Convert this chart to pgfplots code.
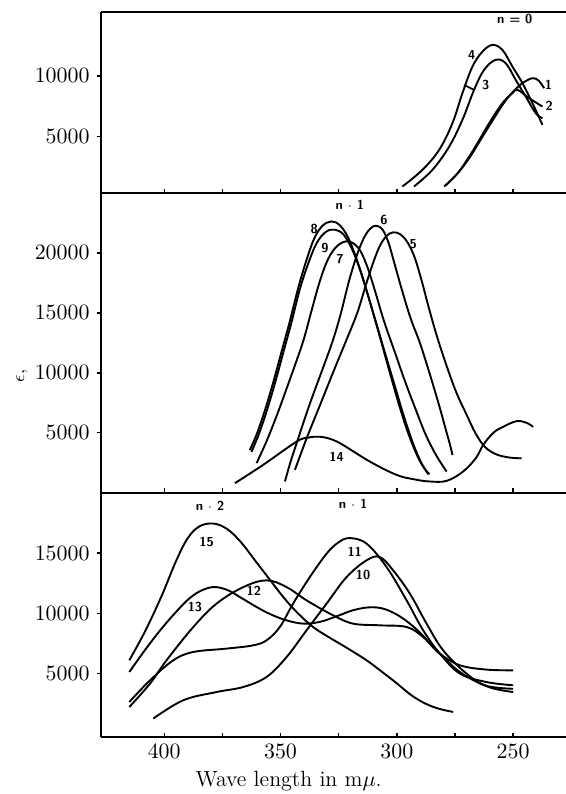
\documentclass[border=0pt]{standalone}
\usepackage{pgfplots}
\pgfplotsset{compat=1.18}
\usepgfplotslibrary{groupplots}

\tikzset{lbl/.style={font=\fontsize{6.5}{7}\sffamily\bfseries, inner sep=0pt}}

\begin{document}
\begin{tikzpicture}
\begin{groupplot}[
  group style={group size=1 by 3, vertical sep=0pt, group name=G,
    xticklabels at=edge bottom},
  width=232.5pt, scale only axis,
  x dir=reverse, xmin=227.4, xmax=427.2,
  xtick={250,300,350,400}, minor xtick={275,325,375},
  axis x line*=box, axis y line*=left,
  xtick pos=bottom, ytick pos=left,
  xtick align=inside, ytick align=outside,
  major tick length=2.2pt, minor tick length=2.2pt,
  every tick/.style={black, line width=0.7pt},
  axis line style={line width=1pt},
  scaled y ticks=false,
  yticklabel style={/pgf/number format/1000 sep={}},
  tick label style={font=\fontsize{10.5}{12}\selectfont},
  clip=false,
  every axis plot post/.append style={black, solid, line width=0.95pt, mark=none, smooth, tension=0.6},
]
% ---- top panel, n = 0
\nextgroupplot[height=90.5pt, ymin=300, ymax=15300, ytick={5000,10000}]
\coordinate (TL) at (rel axis cs:0,1);
\addplot coordinates {(297.6,830) (289,2210) (281.8,3870) (276.1,6080) (271.8,8570) (267.5,10770) (263.2,12010) (258.9,12570) (254.6,12150) (250.3,10770) (246,9400) (241.7,7740) (237.4,5940)};
\addplot coordinates {(292.6,830) (284.7,2210) (277.5,4140) (271.8,6360) (266.8,8840) (262.5,10500) (257.5,11330) (253.2,11050) (248.9,9670) (244.6,8290) (240.3,6910) (237.4,6500)};
\addplot coordinates {(279.7,830) (274,1900) (268.9,3310) (264.5,4700) (260.3,6080) (254.6,7740) (250.3,8570) (248.1,8840) (243.1,8150) (237.4,7460)};
\addplot coordinates {(279,900) (273.5,2000) (268.3,3350) (264,4700) (259.5,6100) (254,7750) (250,8700) (246,9400) (241.7,9810) (239,9600) (236.7,8980)};
\draw[line width=0.8pt] (axis cs:271.1,9255) -- (axis cs:266.8,8840);
\node[lbl] at (axis cs:249.3,14700) {n = 0};
\node[lbl] at (axis cs:267.8,11740) {4};
\node[lbl] at (axis cs:261.8,9254) {3};
\node[lbl] at (axis cs:234.8,9254) {1};
\node[lbl] at (axis cs:234.5,7514) {2};

% ---- middle panel, n = 1
\nextgroupplot[height=150pt, ymin=0, ymax=25000, ytick={5000,10000,15000,20000},
  ylabel={$\epsilon$,},
  ylabel style={at={(axis description cs:-0.17,0.39)}, anchor=center,
    font=\fontsize{9}{10}\selectfont}]
% 8
\addplot coordinates {(363.2,3560) (360,5000) (356.5,7000) (353,9300) (349.5,11800) (346,14300) (342.5,17000) (339,19300) (335.5,21200) (332,22250) (328.1,22620) (324.5,22300) (321,21300) (317.5,19600) (314,17500) (310.5,15200) (307,12800) (303,10000) (299,7300) (295,4900) (291,3000) (288,2000) (286,1550)};
% 9
\addplot coordinates {(362.5,3400) (359.3,4900) (355.8,6900) (352.3,9200) (348.8,11700) (345.3,14200) (341.8,16900) (338.3,19000) (334.5,20800) (330.5,21750) (326.6,21930) (322.8,21500) (319,20200) (315.5,18400) (312,16200) (308.5,13900) (305,11600) (301,9000) (297,6400) (293,4100) (289.5,2500) (286.5,1550)};
% 7
\addplot coordinates {(360.3,2470) (356,4300) (351.5,6500) (347.4,8680) (343.5,10800) (340,12800) (336.5,15300) (333,17700) (329.5,19500) (325.5,20600) (320.9,20960) (316.5,20400) (313,19000) (309.5,16900) (305.5,14300) (301,11800) (296.5,9300) (292,7000) (287.5,4800) (283,3100) (278.6,1770)};
% 6
\addplot coordinates {(348.1,944) (345.5,2700) (342.4,4530) (338.5,6800) (335,8700) (331,10800) (327.3,12820) (324,15000) (320.5,17700) (317,19900) (314,21300) (311.3,22050) (308.7,22260) (306,21900) (303.5,20800) (301,19100) (297.5,16700) (294,14500) (290.1,12500) (286,10000) (282,7400) (279,5300) (277,3900) (276.1,3150)};
% 5
\addplot coordinates {(343.8,1910) (338.8,4530) (334.5,6600) (330.2,8680) (326,10700) (321.5,12820) (317,15000) (313.5,17200) (310.5,19000) (307.5,20500) (304.5,21400) (301.6,21710) (298.5,21550) (295.5,20900) (292.5,19700) (289.5,17800) (286.5,15600) (283,13200) (279,10800) (274.5,8400) (270,6500) (266,4900) (262,3800) (257.2,3200) (251.4,2930) (246.4,2875)};
% 14
\addplot coordinates {(369.6,800) (357.5,2320) (343.1,4260) (338,4600) (333.1,4670) (328,4450) (323.1,3980) (311.6,2600) (300.1,1490) (292,1100) (285.8,940) (278.6,990) (271.5,1770) (266,2900) (262.9,3980) (258.5,5000) (254.3,5500) (248.6,5965) (244.5,5850) (241.4,5500)};
\node[lbl] at (axis cs:320.2,24000) {n $\cdot$ 1};
\node[lbl] at (axis cs:335.5,22000) {8};
\node[lbl] at (axis cs:330.9,20400) {9};
\node[lbl] at (axis cs:324.5,19450) {7};
\node[lbl] at (axis cs:305.5,22760) {6};
\node[lbl] at (axis cs:293,20690) {5};
\node[lbl] at (axis cs:325.9,3015) {14};

% ---- bottom panel, n = 2 and n = 1
\nextgroupplot[height=122.2pt, ymin=-250, ymax=20000, ytick={5000,10000,15000},
  xlabel={Wave length in m$\mu$.},
  xlabel style={at={(axis description cs:0.404,0)}, anchor=center, yshift=-22pt,
    font=\fontsize{11}{13}\selectfont}]
\coordinate (BR) at (rel axis cs:1,0);
% 15
\addplot coordinates {(415,6110) (408,8600) (401,11500) (395,14300) (390,16200) (385,17200) (379,17450) (373,17000) (367,15900) (361,14400) (355,12900) (349,11400) (343,10100) (336,8870) (329,8000) (322,7200) (313,6110) (306,5100) (300,4200) (294,3250) (288,2550) (282,2100) (275.8,1830)};
% 13
\addplot coordinates {(415,5140) (410,6500) (405,7800) (400,9000) (395,10100) (390,11100) (385,11800) (379,12180) (373,11950) (367,11300) (360.3,10530) (354,9900) (347,9400) (340,9150) (333,9300) (326,9750) (319,10250) (312,10500) (306,10400) (300,9900) (294.4,9150) (289,8200) (284,7100) (279,6200) (274,5300) (267,4450) (259,3800) (250,3480)};
% 12
\addplot coordinates {(415,2240) (406.1,4180) (399,6110) (387.5,8870) (377.5,10810) (366,12180) (356,12740) (347.4,12180) (338.8,11080) (327.4,9840) (318.8,9150) (307.3,9010) (295.8,8870) (288.7,8040) (281.5,6670) (272.9,5700) (261.5,5340) (250,5280)};
% 11
\addplot coordinates {(415,2660) (406.1,4450) (396.1,6110) (387.5,6800) (373.2,7080) (361.8,7350) (356,7770) (350.3,8870) (344.6,10810) (337.4,13010) (330.2,14950) (325,15900) (320.2,16240) (313,15780) (304.4,13840) (295.8,11080) (288.7,8600) (281.5,6670) (272.9,5010) (261.5,4310) (250,4040)};
% 10
\addplot coordinates {(404.7,1280) (391.8,2800) (377.5,3480) (366,3900) (356,4730) (347.4,6380) (338.8,8600) (330.2,10810) (321.6,13010) (313,14400) (307.3,14670) (301.6,13570) (294.4,11640) (287.2,9150) (280.1,6940) (270,5000) (261.5,4000) (250,3750)};
\node[lbl] at (axis cs:380.3,18950) {n $\cdot$ 2};
\node[lbl] at (axis cs:318.8,19090) {n $\cdot$ 1};
\node[lbl] at (axis cs:381.8,15900) {15};
\node[lbl] at (axis cs:386.8,10530) {13};
\node[lbl] at (axis cs:361.5,11900) {12};
\node[lbl] at (axis cs:318.1,15080) {11};
\node[lbl] at (axis cs:314.5,13150) {10};
\end{groupplot}
\pgfresetboundingbox
\path ([shift={(-50.5pt,6pt)}]TL) rectangle ([shift={(0pt,-28.5pt)}]BR);
\end{tikzpicture}
\end{document}
